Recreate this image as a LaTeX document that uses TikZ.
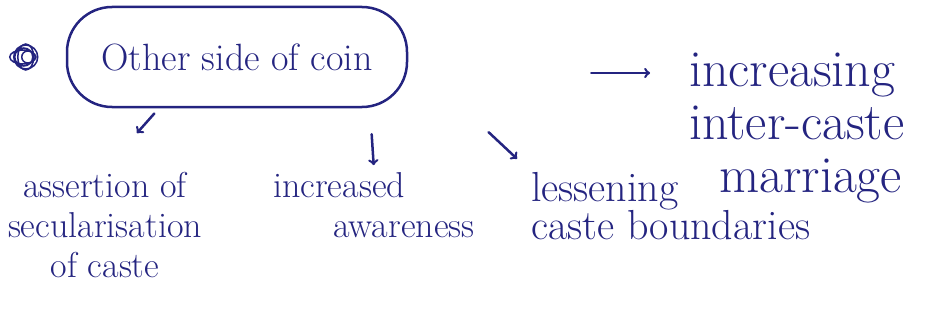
\documentclass[tikz,border=0pt]{standalone}
\usepackage{tikz}
\usetikzlibrary{positioning}
\definecolor{ink}{RGB}{36,36,128}

\begin{document}
\begin{tikzpicture}[
  x = 1pt, y = -1pt,
  every node/.style = {text = ink, inner sep = 3pt},
  note/.style = {font = \fontsize{36}{40}\selectfont},
  midnote/.style = {font = \fontsize{42}{38}\selectfont, align = left},
  bignote/.style = {font = \fontsize{52}{53}\selectfont, align = left},
  arr/.style = {->, draw = ink, line width = 2.5pt, line cap = round}
  ]
  \useasboundingbox (0,0) rectangle (936,321);
  \node[draw = ink, line width = 2.5pt, rounded corners = 45pt,
        minimum width = 340pt, minimum height = 100pt,
        font = \fontsize{38}{40}\selectfont] (coin) at (237,57) {Other side of coin};
  \coordinate (bullet) at ([xshift=-40pt]coin.west);
  \draw[ink, line width = 1.5pt] (bullet) circle (12pt)
    (bullet) ellipse (8pt and 13pt)
    ([xshift=2pt]bullet) circle (6pt)
    ([xshift=-2pt]bullet) circle (9pt)
    ([xshift=-3pt]bullet) ellipse (13pt and 7pt);

  \node[note, align = center] (assert) at (105,225) {assertion of\\secularisation\\of caste};
  \node[note, align = left, anchor = west] (aware) at (270,205) {increased\\\hspace*{60pt}awareness};
  \node[midnote, anchor = west] (less) at (528,206) {lessening\\caste boundaries};
  \node[bignote, anchor = west] (incr) at (686,128) {increasing\\inter-caste\\\hspace*{30pt}marriage};

  \draw[arr, shorten <= 7pt, shorten >= 48pt] ([xshift=-78pt]coin.south) -- (assert.north);
  \draw[arr, shorten <= 26pt, shorten >= 4pt] ([xshift=133pt]coin.south) -- (aware.north);
  \draw[arr, shorten <= 110pt, shorten >= 15pt] (coin.east) -- (less.north west);
  \draw[arr, shorten <= 183pt, shorten >= 36pt] ([yshift=-16pt]coin.east) -- ([yshift=-16pt]coin.east -| incr.west);
\end{tikzpicture}
\end{document}
